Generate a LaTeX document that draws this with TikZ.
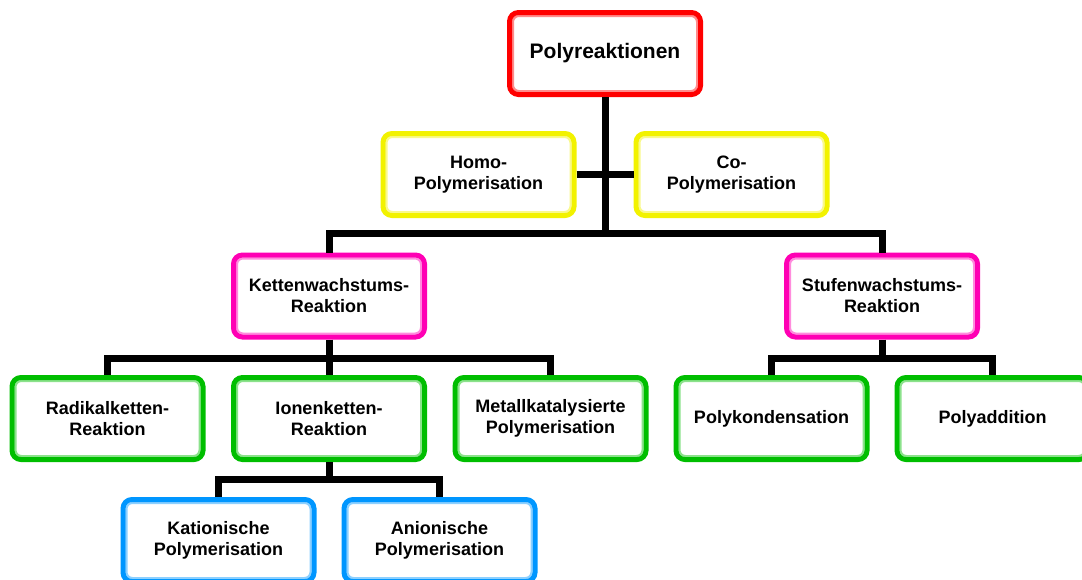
\documentclass[tikz,border=0pt]{standalone}
\usepackage{fontspec}
\setmainfont{Liberation Sans}
\usetikzlibrary{positioning, calc}

\definecolor{rot}{HTML}{FF0000}
\definecolor{gelb}{HTML}{F2F200}
\definecolor{pink}{HTML}{FF00B4}
\definecolor{gruen}{HTML}{00BE00}
\definecolor{blau}{HTML}{0096FF}

\begin{document}
\begin{tikzpicture}[
        node distance=35pt and 25.5pt,
        box/.style={draw=#1, fill=white, line width=5pt, rounded corners=9pt,
            minimum width=191pt, minimum height=82pt, align=center,
            font=\fontsize{18pt}{21pt}\selectfont\bfseries,
            path picture={\draw[#1!45, line width=2pt, rounded corners=6pt]
                ([shift={(3.5pt,3.5pt)}]path picture bounding box.south west) rectangle
                ([shift={(-3.5pt,-3.5pt)}]path picture bounding box.north east);}},
        link/.style={draw, line width=7pt}
    ]
    \useasboundingbox (0,0) rectangle (1082pt,-579pt);

    % Root
    \node[box=rot, font=\fontsize{21pt}{24pt}\selectfont\bfseries] (poly) at (605pt,-53.5pt) {Polyreaktionen};

    % Homo / Co
    \node[box=gelb, below left=34pt and 28.5pt of poly.south] (homo) {Homo-\\Polymerisation};
    \node[box=gelb, below right=34pt and 28.5pt of poly.south] (co) {Co-\\Polymerisation};

    % Kettenwachstum / Stufenwachstum
    \node[box=pink, below left=155.5pt and 178pt of poly.south] (kette) {Kettenwachstums-\\Reaktion};
    \node[box=pink, below right=155.5pt and 179pt of poly.south] (stufe) {Stufenwachstums-\\Reaktion};

    % Reaktionen unter Kettenwachstum
    \node[box=gruen, below=35.5pt of kette] (ionen) {Ionenketten-\\Reaktion};
    \node[box=gruen, left=of ionen] (radikal) {Radikalketten-\\Reaktion};
    \node[box=gruen, right=of ionen] (metall) {Metallkatalysierte\\Polymerisation};

    % Reaktionen unter Stufenwachstum
    \node[box=gruen, below left=35.5pt and 12.5pt of stufe.south] (kond) {Polykondensation};
    \node[box=gruen, below right=35.5pt and 12.5pt of stufe.south] (add) {Polyaddition};

    % Ionische Polymerisation
    \node[box=blau, below left=35pt and 12.5pt of ionen.south] (kation) {Kationische\\Polymerisation};
    \node[box=blau, below right=35pt and 12.5pt of ionen.south] (anion) {Anionische\\Polymerisation};

    % Junctions
    \coordinate (bar1) at ($(kette.north)+(0,19pt)$);
    \coordinate (bar2) at ($(radikal.north)+(0,17pt)$);
    \coordinate (bar3) at ($(kation.north)+(0,17.5pt)$);

    % Links from the root
    \draw[link] (poly.south) -- (poly.south |- bar1);
    \draw[link] (homo) -- (co);
    \draw[link] (kette.north) -- (bar1) -| (stufe.north);

    % Links from Kettenwachstum
    \draw[link] (kette.south) -- (ionen.north);
    \draw[link] (radikal.north) -- (bar2) -| (metall.north);

    % Links from Stufenwachstum
    \draw[link] (stufe.south) -- (stufe.south |- bar2);
    \draw[link] (kond.north) -- (kond.north |- bar2) -| (add.north);

    % Links from Ionenketten
    \draw[link] (ionen.south) -- (ionen.south |- bar3);
    \draw[link] (kation.north) -- (bar3) -| (anion.north);

\end{tikzpicture}
\end{document}
